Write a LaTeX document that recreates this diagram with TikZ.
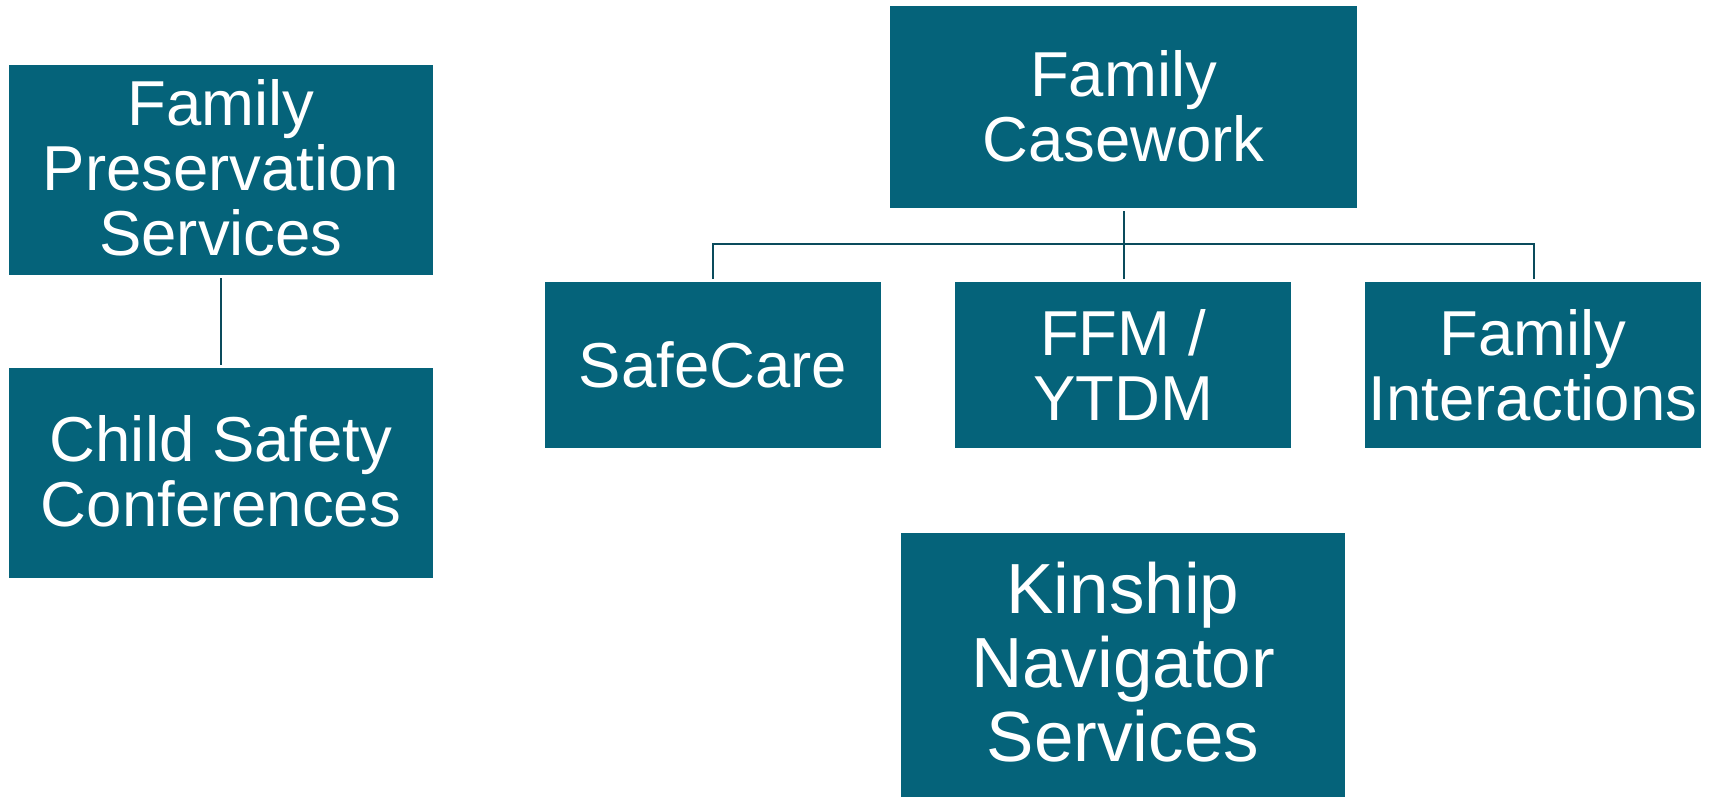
\documentclass[tikz,border=0pt]{standalone}
\usepackage{fontspec}
\setmainfont{Liberation Sans}
\definecolor{teal1}{RGB}{5,99,122}
\definecolor{linec}{RGB}{10,75,92}
\begin{document}
\begin{tikzpicture}[x=1pt,y=-1pt,
  box/.style={fill=teal1, draw=none, text=white, align=center,
    font=\fontsize{63.5}{65}\selectfont, inner sep=0pt},
  bigbox/.style={box, font=\fontsize{71}{74}\selectfont},
  conn/.style={draw=linec, line width=2.2pt}]
\useasboundingbox (0,0) rectangle (1714,797);
\fill[white] (0,0) rectangle (1714,797);
% boxes
\fill[teal1] (9,65) rectangle (433,275);
\node[box] (fps) at (221,168) {Family\\Preservation\\Services};
\fill[teal1] (9,368) rectangle (433,578);
\node[box] (csc) at (221,471) {Child Safety\\Conferences};
\fill[teal1] (890,6) rectangle (1357,208);
\node[box] (fc) at (1123.5,106) {Family\\Casework};
\fill[teal1] (545,282) rectangle (881,448);
\node[box] (sc) at (713,365) {SafeCare};
\fill[teal1] (955,282) rectangle (1291,448);
\node[box] (ffm) at (1123,365) {FFM /\\YTDM};
\fill[teal1] (1365,282) rectangle (1701,448);
\node[box] (fi) at (1533,365) {Family\\Interactions};
\fill[teal1] (901,533) rectangle (1345,797);
\node[box,bigbox] (kn) at (1123,662) {Kinship\\Navigator\\Services};
% anchors
\coordinate (fpsB) at (221,278);
\coordinate (cscT) at (221,365);
\coordinate (fcB) at (1124,211);
\coordinate (mid) at (1124,244);
\coordinate (scT) at (713,279);
\coordinate (ffmT) at (1124,279);
\coordinate (fiT) at (1534,279);
\draw[conn] (fpsB) -- (cscT);
\draw[conn] (fcB) -- (mid);
\draw[conn] (scT) |- (mid) -| (fiT);
\draw[conn] (mid) -- (ffmT);
\end{tikzpicture}
\end{document}
